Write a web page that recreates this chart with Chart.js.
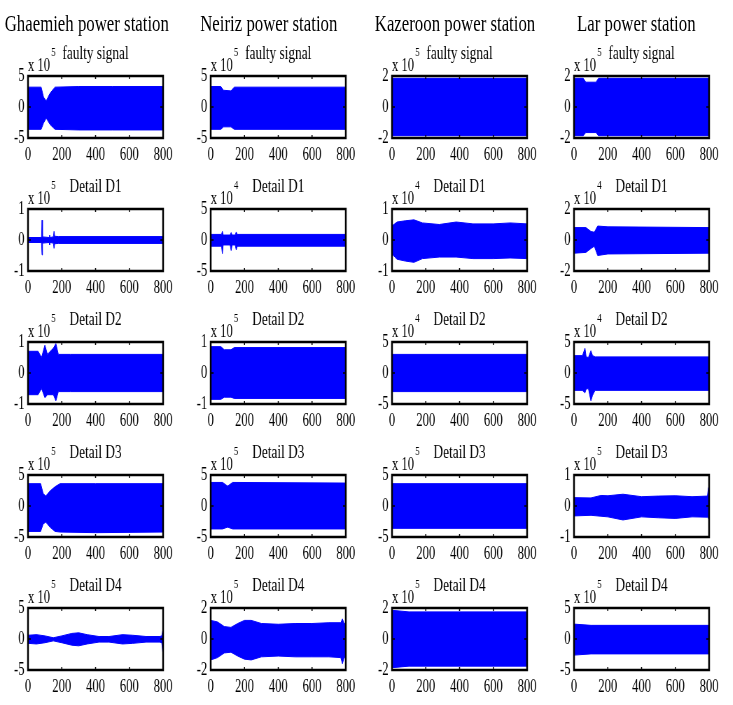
<!DOCTYPE html>
<html>
<head>
<meta charset="utf-8">
<script src="https://cdn.jsdelivr.net/npm/chart.js@4.4.0/dist/chart.umd.min.js"></script>
<style>
  html, body { margin: 0; padding: 0; background: #fff; }
  body { width: 733px; height: 705px; overflow: hidden; position: relative; }
  /* the source figure is squeezed sideways, so everything is drawn wide and then condensed */
  #fig { position: absolute; left: 0; top: 0; width: 1047px; height: 705px; transform: scaleX(0.7); transform-origin: 0 0; }
  #fig canvas { position: absolute; }
  .station { position: absolute; top: 11px; font: 24px "Liberation Serif", "DejaVu Serif", serif; line-height: 25px; white-space: nowrap; transform: translateX(-50%); color: #000; }
</style>
</head>
<body>
<div id="fig"></div>
<script>
const stations = ["Ghaemieh power station", "Neiriz power station", "Kazeroon power station", "Lar power station"];
const rowTitles = ["faulty signal", "Detail D1", "Detail D2", "Detail D3", "Detail D4"];
const xTicks = [0, 200, 400, 600, 800];
// y limit (in units of the exponent) and exponent per row, per station
const yMax = [[5, 5, 2, 2], [1, 5, 1, 2], [1, 1, 5, 5], [5, 5, 5, 1], [5, 2, 2, 5]];
const yExp = [[5, 5, 5, 5], [5, 4, 4, 4], [5, 5, 4, 4], [5, 5, 5, 5], [5, 5, 5, 5]];

// envelopes of the oscillating signals (sample index, upper, lower)
const ghFaultyX = [0, 78, 92, 108, 130, 160, 300, 500, 800];
const ghFaultyHi = [3.2, 3.2, 1.6, 1.0, 2.2, 3.2, 3.3, 3.3, 3.3];
const ghFaultyLo = [-3.6, -3.6, -2.6, -1.8, -2.8, -3.6, -3.7, -3.7, -3.7];
const neFaultyX = [0, 60, 75, 120, 140, 800];
const neFaultyHi = [3.3, 3.3, 2.7, 2.6, 3.2, 3.2];
const neFaultyLo = [-3.6, -3.6, -3.2, -3.2, -3.6, -3.6];
const kaFaultyX = [0, 800];
const kaFaultyHi = [1.85, 1.85];
const kaFaultyLo = [-1.85, -1.85];
const laFaultyX = [0, 55, 70, 130, 145, 800];
const laFaultyHi = [1.85, 1.85, 1.6, 1.6, 1.85, 1.85];
const laFaultyLo = [-1.85, -1.85, -1.65, -1.65, -1.85, -1.85];

const ghD1X = [0, 75, 80, 83, 86, 125, 128, 131, 150, 154, 158, 180, 800];
const ghD1Hi = [0.08, 0.08, 0.1, 0.64, 0.1, 0.08, 0.16, 0.08, 0.1, 0.28, 0.12, 0.11, 0.11];
const ghD1Lo = [-0.08, -0.08, -0.1, -0.48, -0.1, -0.08, -0.16, -0.08, -0.1, -0.27, -0.12, -0.11, -0.11];
const neD1X = [0, 64, 69, 74, 115, 121, 127, 145, 151, 157, 800];
const neD1Hi = [0.9, 0.9, 1.4, 0.8, 0.8, 1.2, 0.8, 0.8, 1.3, 0.9, 0.9];
const neD1Lo = [-1.0, -1.0, -2.2, -0.8, -0.8, -1.7, -0.8, -0.8, -1.6, -1.0, -1.0];
const kaD1X = [0, 30, 80, 130, 180, 280, 380, 480, 600, 700, 800];
const kaD1Hi = [0.45, 0.58, 0.62, 0.65, 0.55, 0.50, 0.58, 0.52, 0.52, 0.55, 0.52];
const kaD1Lo = [-0.45, -0.62, -0.68, -0.72, -0.60, -0.55, -0.55, -0.60, -0.60, -0.58, -0.60];
const laD1X = [0, 70, 100, 120, 140, 200, 800];
const laD1Hi = [0.8, 0.8, 0.55, 0.5, 0.9, 0.85, 0.8];
const laD1Lo = [-0.85, -0.8, -0.55, -0.4, -1.0, -0.9, -0.85];

const ghD2X = [0, 60, 80, 100, 115, 150, 165, 180, 250, 800];
const ghD2Hi = [0.7, 0.7, 0.5, 0.9, 0.6, 0.8, 0.95, 0.6, 0.6, 0.6];
const ghD2Lo = [-0.7, -0.7, -0.5, -0.8, -0.7, -0.7, -0.9, -0.6, -0.6, -0.6];
const neD2X = [0, 60, 80, 120, 140, 800];
const neD2Hi = [0.85, 0.85, 0.75, 0.75, 0.82, 0.82];
const neD2Lo = [-0.85, -0.85, -0.78, -0.78, -0.82, -0.82];
const kaD2X = [0, 800];
const kaD2Hi = [3.0, 3.0];
const kaD2Lo = [-3.0, -3.0];
const laD2X = [0, 50, 65, 72, 85, 100, 110, 125, 800];
const laD2Hi = [2.8, 2.8, 4.0, 2.6, 2.5, 3.6, 2.8, 2.6, 2.6];
const laD2Lo = [-2.8, -2.8, -3.2, -2.6, -2.5, -4.5, -3.6, -2.8, -2.8];

const ghD3X = [0, 75, 90, 105, 130, 160, 190, 400, 800];
const ghD3Hi = [3.6, 3.6, 2.0, 1.6, 2.4, 3.1, 3.6, 3.6, 3.6];
const ghD3Lo = [-4.1, -4.1, -2.9, -2.6, -3.4, -4.1, -4.2, -4.3, -4.2];
const neD3X = [0, 70, 100, 130, 800];
const neD3Hi = [3.8, 3.8, 3.2, 3.8, 3.7];
const neD3Lo = [-3.7, -3.7, -3.4, -3.7, -3.7];
const kaD3X = [0, 800];
const kaD3Hi = [3.6, 3.6];
const kaD3Lo = [-3.6, -3.6];
const laD3X = [0, 100, 160, 200, 290, 400, 500, 600, 700, 790, 796, 800];
const laD3Hi = [0.27, 0.26, 0.34, 0.33, 0.38, 0.3, 0.32, 0.33, 0.3, 0.32, 0.6, 0.6];
const laD3Lo = [-0.32, -0.3, -0.33, -0.35, -0.45, -0.35, -0.38, -0.4, -0.35, -0.36, -0.4, -0.4];

const ghD4X = [0, 50, 100, 150, 200, 260, 300, 350, 420, 480, 560, 620, 700, 780, 792, 798, 800];
const ghD4Hi = [0.6, 0.7, 0.5, 0.2, 0.5, 0.9, 1.0, 0.7, 0.4, 0.4, 0.7, 0.6, 0.4, 0.4, 0.5, 1.4, 1.4];
const ghD4Lo = [-0.7, -0.8, -0.6, -0.3, -0.6, -1.0, -1.1, -0.8, -0.5, -0.5, -0.8, -0.7, -0.5, -0.5, -0.6, -2.2, -2.2];
const neD4X = [0, 40, 80, 120, 160, 200, 240, 300, 400, 500, 600, 700, 770, 780, 790, 800];
const neD4Hi = [1.2, 1.1, 0.8, 0.75, 1.0, 1.2, 1.2, 1.0, 0.95, 1.0, 1.0, 1.05, 1.05, 1.3, 1.0, 1.0];
const neD4Lo = [-1.35, -1.2, -0.9, -0.85, -1.1, -1.3, -1.35, -1.15, -1.1, -1.15, -1.15, -1.15, -1.2, -1.6, -1.2, -1.2];
const kaD4X = [0, 100, 800];
const kaD4Hi = [1.85, 1.75, 1.75];
const kaD4Lo = [-1.85, -1.75, -1.75];
const laD4X = [0, 100, 800];
const laD4Hi = [2.4, 2.2, 2.2];
const laD4Lo = [-2.6, -2.4, -2.4];

const envelopes = [
  [[ghFaultyX, ghFaultyHi, ghFaultyLo], [neFaultyX, neFaultyHi, neFaultyLo], [kaFaultyX, kaFaultyHi, kaFaultyLo], [laFaultyX, laFaultyHi, laFaultyLo]],
  [[ghD1X, ghD1Hi, ghD1Lo], [neD1X, neD1Hi, neD1Lo], [kaD1X, kaD1Hi, kaD1Lo], [laD1X, laD1Hi, laD1Lo]],
  [[ghD2X, ghD2Hi, ghD2Lo], [neD2X, neD2Hi, neD2Lo], [kaD2X, kaD2Hi, kaD2Lo], [laD2X, laD2Hi, laD2Lo]],
  [[ghD3X, ghD3Hi, ghD3Lo], [neD3X, neD3Hi, neD3Lo], [kaD3X, kaD3Hi, kaD3Lo], [laD3X, laD3Hi, laD3Lo]],
  [[ghD4X, ghD4Hi, ghD4Lo], [neD4X, neD4Hi, neD4Lo], [kaD4X, kaD4Hi, kaD4Lo], [laD4X, laD4Hi, laD4Lo]],
];

// layout (in the un-condensed drawing space)
const boxLeft = [40, 301, 560, 820];
const boxTop = [76, 209, 342, 475, 608];
const stationX = [124, 384, 650, 909];
const AXIS_W = 40, PAD_TOP = 38, PAD_RIGHT = 20, BOX_W = 193, BOX_H = 62, XAXIS_H = 24;
const BLUE = "#0000ff";
const serif = '"Liberation Serif", "DejaVu Serif", serif';

const fig = document.querySelector("#fig");

stations.forEach((name, c) => {
  const d = document.createElement("div");
  d.className = "station";
  d.style.left = stationX[c] + "px";
  d.textContent = name;
  fig.appendChild(d);
});

const frame = {
  id: "frame",
  afterDraw(chart, args, opts) {
    const { ctx, chartArea: a, scales } = chart;
    ctx.save();
    ctx.strokeStyle = "#000";
    ctx.lineWidth = 1.5;
    ctx.beginPath();
    xTicks.forEach((v) => {
      const px = scales.x.getPixelForValue(v);
      ctx.moveTo(px, a.top); ctx.lineTo(px, a.top + 3);
      ctx.moveTo(px, a.bottom); ctx.lineTo(px, a.bottom - 3);
    });
    [-opts.max, 0, opts.max].forEach((v) => {
      const py = scales.y.getPixelForValue(v);
      ctx.moveTo(a.left, py); ctx.lineTo(a.left + 4, py);
      ctx.moveTo(a.right, py); ctx.lineTo(a.right - 4, py);
    });
    ctx.stroke();
    ctx.lineWidth = 2.5;
    ctx.strokeRect(a.left, a.top, a.right - a.left, a.bottom - a.top);

    ctx.fillStyle = "#000";
    ctx.textBaseline = "alphabetic";
    ctx.textAlign = "center";
    ctx.font = "19px " + serif;
    ctx.fillText(opts.title, (a.left + a.right) / 2, a.top - 17);
    ctx.textAlign = "left";
    ctx.font = "18px " + serif;
    ctx.fillText("x 10", a.left, a.top - 5);
    ctx.font = "13px " + serif;
    ctx.fillText(String(opts.exp), a.left + 33, a.top - 20);
    ctx.restore();
  },
};

rowTitles.forEach((title, r) => {
  stations.forEach((s, c) => {
    const [xs, hi, lo] = envelopes[r][c];
    const m = yMax[r][c];
    const cv = document.createElement("canvas");
    cv.width = AXIS_W + BOX_W + PAD_RIGHT;
    cv.height = PAD_TOP + BOX_H + XAXIS_H;
    cv.style.left = boxLeft[c] - AXIS_W + "px";
    cv.style.top = boxTop[r] - PAD_TOP + "px";
    fig.appendChild(cv);

    new Chart(cv, {
      type: "line",
      data: {
        datasets: [
          { data: xs.map((x, i) => ({ x, y: hi[i] })), borderColor: BLUE, backgroundColor: BLUE, borderWidth: 1, pointRadius: 0, tension: 0, fill: false },
          { data: xs.map((x, i) => ({ x, y: lo[i] })), borderColor: BLUE, backgroundColor: BLUE, borderWidth: 1, pointRadius: 0, tension: 0, fill: "-1" },
        ],
      },
      options: {
        responsive: false,
        animation: false,
        devicePixelRatio: 1,
        events: [],
        layout: { padding: { top: PAD_TOP, right: PAD_RIGHT, left: 0, bottom: 0 } },
        plugins: {
          legend: { display: false },
          tooltip: { enabled: false },
          frame: { title, exp: yExp[r][c], max: m },
        },
        scales: {
          x: {
            type: "linear",
            min: 0,
            max: 800,
            grid: { display: false, drawTicks: false },
            border: { display: false },
            afterFit: (sc) => { sc.height = XAXIS_H; },
            afterBuildTicks: (sc) => { sc.ticks = xTicks.map((v) => ({ value: v })); },
            ticks: { autoSkip: false, maxRotation: 0, padding: 6, color: "#000", font: { family: serif, size: 18 }, callback: (v) => String(v) },
          },
          y: {
            min: -m,
            max: m,
            grid: { display: false, drawTicks: false },
            border: { display: false },
            afterFit: (sc) => { sc.width = AXIS_W; },
            afterBuildTicks: (sc) => { sc.ticks = [-m, 0, m].map((v) => ({ value: v })); },
            ticks: { padding: 5, color: "#000", font: { family: serif, size: 18 }, callback: (v) => String(v) },
          },
        },
      },
      plugins: [frame],
    });
  });
});
</script>
</body>
</html>
